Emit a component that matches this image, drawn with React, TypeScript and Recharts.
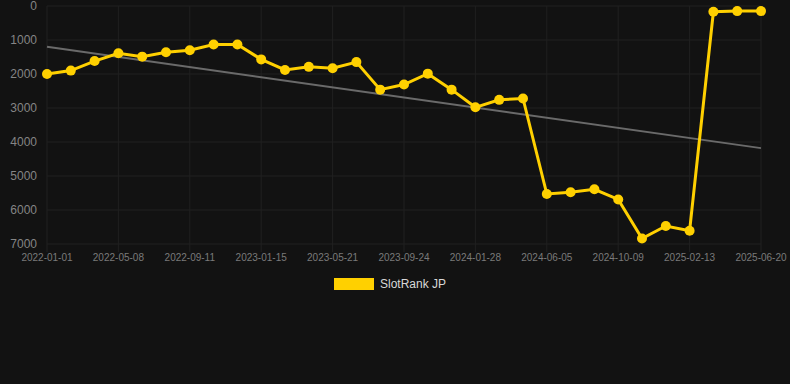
import { LineChart, Line, XAxis, YAxis, CartesianGrid, Legend } from 'recharts';

const dates = [
  '2022-01-01', '2022-02-12', '2022-03-26', '2022-05-08', '2022-06-19', '2022-07-31',
  '2022-09-11', '2022-10-23', '2022-12-04', '2023-01-15', '2023-02-26', '2023-04-09',
  '2023-05-21', '2023-07-02', '2023-08-13', '2023-09-24', '2023-11-05', '2023-12-17',
  '2024-01-28', '2024-03-10', '2024-04-23', '2024-06-05', '2024-07-17', '2024-08-28',
  '2024-10-09', '2024-11-20', '2025-01-01', '2025-02-13', '2025-03-27', '2025-05-09',
  '2025-06-20',
];

const rank = [
  2000, 1900, 1620, 1390, 1490, 1360, 1300, 1130, 1130, 1570, 1880, 1790,
  1830, 1650, 2460, 2310, 1990, 2460, 2980, 2760, 2720, 5530, 5480, 5390,
  5690, 6840, 6470, 6610, 170, 150, 150,
];

// trend only known at its two ends, drawn straight between them
const trendStart = 1200;
const trendEnd = 4180;

const yTicks = [0, 1000, 2000, 3000, 4000, 5000, 6000, 7000];

const YELLOW = '#FFD000';
const GRID = '#202020';

const data = dates.map((date, i) => ({
  date,
  rank: rank[i],
  trend: i === 0 ? trendStart : i === dates.length - 1 ? trendEnd : null,
}));

function LegendContent() {
  return (
    <div style={{ display: 'flex', justifyContent: 'center', alignItems: 'center', height: 20, paddingRight: 10, boxSizing: 'border-box' }}>
      <span style={{ display: 'inline-block', width: 40, height: 12, background: YELLOW, marginRight: 6 }} />
      <span style={{ color: '#d8d8d8', fontSize: 12 }}>SlotRank JP</span>
    </div>
  );
}

export default function App() {
  return (
    <div style={{ position: 'absolute', left: 0, top: 0, width: 790, height: 384, background: '#121212', fontFamily: '"Liberation Sans", Arial, sans-serif' }}>
      <LineChart width={790} height={384} data={data} margin={{ top: 6, right: 29, bottom: 86, left: 0 }}>
        <CartesianGrid stroke={GRID} strokeWidth={1} />
        <XAxis
          dataKey="date"
          interval={2}
          height={34}
          axisLine={false}
          tickSize={8}
          tickLine={{ stroke: GRID }}
          tickMargin={2}
          tick={{ fill: '#7a7a7a', fontSize: 10 }}
        />
        <YAxis
          reversed
          domain={[0, 7000]}
          ticks={yTicks}
          interval={0}
          width={47}
          axisLine={false}
          tickLine={false}
          tickMargin={4}
          tick={{ fill: '#858585', fontSize: 12 }}
        />
        <Legend verticalAlign="bottom" content={<LegendContent />} wrapperStyle={{ left: 0, width: 790, top: 274 }} />
        <Line dataKey="trend" stroke="#6a6a6a" strokeWidth={2} dot={false} activeDot={false} connectNulls isAnimationActive={false} legendType="none" />
        <Line dataKey="rank" stroke={YELLOW} strokeWidth={3} dot={{ r: 5, fill: YELLOW, stroke: YELLOW, strokeWidth: 0 }} isAnimationActive={false} />
      </LineChart>
    </div>
  );
}
